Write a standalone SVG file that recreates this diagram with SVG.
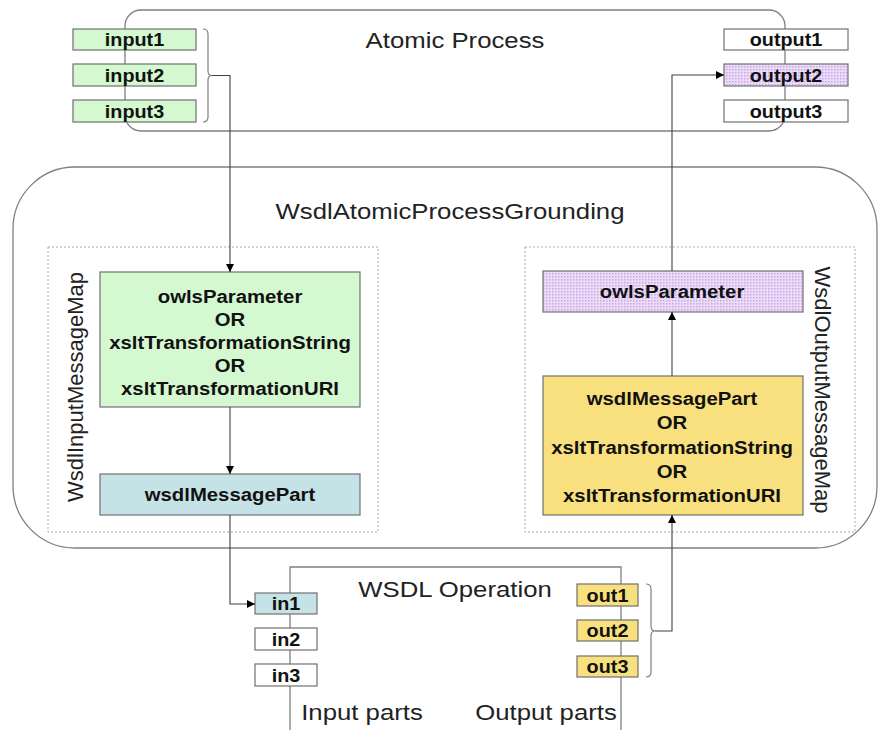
<svg xmlns="http://www.w3.org/2000/svg" width="878" height="730" viewBox="0 0 878 730">
<style>
.frame{fill:none;stroke:#808080;stroke-width:1.3}
.dash{fill:none;stroke:#aaaaaa;stroke-width:1;stroke-dasharray:2,2}
.box{stroke:#707070;stroke-width:1.2}
.green{fill:#d4f8d0}
.blue{fill:#c5e3e6}
.yellow{fill:#f8e07e}
.white{fill:#ffffff}
.purple{fill:url(#dots)}
.b{font-family:"Liberation Sans",Arial,sans-serif;font-weight:bold;font-size:18px;fill:#111;text-anchor:middle}
.r{font-family:"Liberation Sans",Arial,sans-serif;font-size:22px;fill:#222;text-anchor:middle}
.conn{fill:none;stroke:#404040;stroke-width:1.1}
.brace{fill:none;stroke:#808080;stroke-width:1.2}
</style>
<defs>
<pattern id="dots" width="3" height="3" patternUnits="userSpaceOnUse">
<rect width="3" height="3" fill="#ecdcf8"/>
<rect width="1.5" height="1.5" fill="#c8a8e4"/>
</pattern>
<marker id="ah" markerWidth="9" markerHeight="9" refX="8" refY="4" orient="auto" markerUnits="userSpaceOnUse">
<path d="M0,0 L8,4 L0,8 z" fill="#000"/>
</marker>
</defs>

<g id="atomic-process">
<rect class="frame" x="125" y="10" width="660" height="121" rx="16"/>
<text class="r" transform="translate(455,48) scale(1.17,1)">Atomic Process</text>
</g>

<g id="grounding">
<rect class="frame" x="13" y="167" width="864" height="381" rx="62"/>
<text class="r" transform="translate(450,219) scale(1.17,1)">WsdlAtomicProcessGrounding</text>
</g>

<g id="input-map">
<rect class="dash" x="48" y="247" width="330" height="285"/>
<text class="r" transform="translate(83,387) rotate(-90)">WsdlInputMessageMap</text>
</g>

<g id="output-map">
<rect class="dash" x="525" y="247" width="330" height="285"/>
<text class="r" transform="translate(815,390) rotate(90)">WsdlOutputMessageMap</text>
</g>

<g id="wsdl-operation">
<path class="frame" d="M290,735 L290,567 L621,567 L621,735"/>
<text class="r" transform="translate(455,597) scale(1.17,1)">WSDL Operation</text>
<text class="r" transform="translate(362,720) scale(1.17,1)">Input parts</text>
<text class="r" transform="translate(546,720) scale(1.17,1)">Output parts</text>
</g>

<g id="input1"><rect class="box green" x="73" y="29" width="123" height="21"/><text class="b" transform="translate(134.5,46) scale(1.1,1)">input1</text></g>
<g id="input2"><rect class="box green" x="73" y="64" width="123" height="22"/><text class="b" transform="translate(134.5,81.5) scale(1.1,1)">input2</text></g>
<g id="input3"><rect class="box green" x="73" y="100" width="123" height="22"/><text class="b" transform="translate(134.5,117.5) scale(1.1,1)">input3</text></g>
<g id="input-brace"><path class="brace" d="M203,29 Q208,29 208,34 L208,71 Q208,75.5 212,75.5 Q208,75.5 208,80 L208,117 Q208,122 203,122"/></g>

<g id="output1"><rect class="box white" x="724" y="29" width="124" height="21"/><text class="b" transform="translate(786,46) scale(1.1,1)">output1</text></g>
<g id="output2"><rect class="box purple" x="724" y="64" width="124" height="22"/><text class="b" transform="translate(786,81.5) scale(1.1,1)">output2</text></g>
<g id="output3"><rect class="box white" x="724" y="100" width="124" height="22"/><text class="b" transform="translate(786,117.5) scale(1.1,1)">output3</text></g>

<g id="in-owls">
<rect class="box green" x="100" y="272" width="260" height="135"/>
<text class="b" transform="translate(230,302.5) scale(1.13,1)">owlsParameter</text>
<text class="b" transform="translate(230,325.5) scale(1.13,1)">OR</text>
<text class="b" transform="translate(230,348.5) scale(1.13,1)">xsltTransformationString</text>
<text class="b" transform="translate(230,371.5) scale(1.13,1)">OR</text>
<text class="b" transform="translate(230,394.5) scale(1.13,1)">xsltTransformationURI</text>
</g>
<g id="in-wsdlpart">
<rect class="box blue" x="100" y="474" width="260" height="41"/>
<text class="b" transform="translate(230,500.5) scale(1.13,1)">wsdlMessagePart</text>
</g>

<g id="out-owls">
<rect class="box purple" x="543" y="271" width="260" height="41"/>
<text class="b" transform="translate(672,298) scale(1.13,1)">owlsParameter</text>
</g>
<g id="out-wsdlpart">
<rect class="box yellow" x="543" y="376" width="260" height="139"/>
<text class="b" transform="translate(672,404.5) scale(1.13,1)">wsdlMessagePart</text>
<text class="b" transform="translate(672,429) scale(1.13,1)">OR</text>
<text class="b" transform="translate(672,453.5) scale(1.13,1)">xsltTransformationString</text>
<text class="b" transform="translate(672,478) scale(1.13,1)">OR</text>
<text class="b" transform="translate(672,501.5) scale(1.13,1)">xsltTransformationURI</text>
</g>

<g id="in1"><rect class="box blue" x="255" y="593" width="62" height="21"/><text class="b" transform="translate(286,610) scale(1.1,1)">in1</text></g>
<g id="in2"><rect class="box white" x="255" y="628" width="62" height="22"/><text class="b" transform="translate(286,645.5) scale(1.1,1)">in2</text></g>
<g id="in3"><rect class="box white" x="255" y="664" width="62" height="22"/><text class="b" transform="translate(286,681.5) scale(1.1,1)">in3</text></g>

<g id="out1"><rect class="box yellow" x="577" y="584" width="61" height="22"/><text class="b" transform="translate(607.5,601.5) scale(1.1,1)">out1</text></g>
<g id="out2"><rect class="box yellow" x="577" y="620" width="61" height="21"/><text class="b" transform="translate(607.5,637) scale(1.1,1)">out2</text></g>
<g id="out3"><rect class="box yellow" x="577" y="656" width="61" height="21"/><text class="b" transform="translate(607.5,673) scale(1.1,1)">out3</text></g>
<g id="out-brace"><path class="brace" d="M646,584 Q651,584 651,589 L651,626 Q651,631 655,631 Q651,631 651,636 L651,672 Q651,677 646,677"/></g>

<g id="connectors">
<path class="conn" d="M212,75.5 L230,75.5 L230,272" marker-end="url(#ah)"/>
<path class="conn" d="M230,407 L230,474" marker-end="url(#ah)"/>
<path class="conn" d="M230,515 L230,604 L255,604" marker-end="url(#ah)"/>
<path class="conn" d="M655,631 L672,631 L672,515" marker-end="url(#ah)"/>
<path class="conn" d="M672,376 L672,312" marker-end="url(#ah)"/>
<path class="conn" d="M672,271 L672,75 L724,75" marker-end="url(#ah)"/>
</g>
</svg>
